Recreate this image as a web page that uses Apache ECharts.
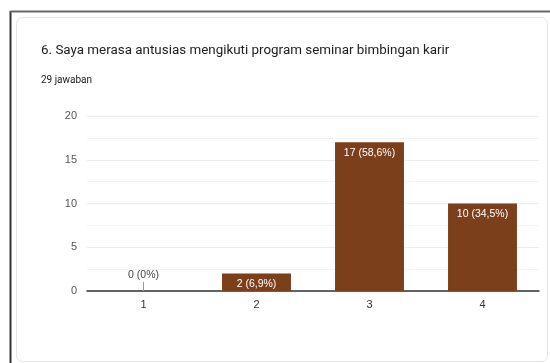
<!DOCTYPE html>
<html>
<head>
<meta charset="utf-8">
<script src="https://cdn.jsdelivr.net/npm/echarts@6/dist/echarts.min.js"></script>
<style>
html,body{margin:0;padding:0;background:#fff;}
#c{width:550px;height:363px;}
</style>
</head>
<body>
<div id="c"></div>
<script>
const titleText = "6. Saya merasa antusias mengikuti program seminar bimbingan karir";
const subtitleText = "29 jawaban";
const categories = ["1", "2", "3", "4"];
const counts = [0, 2, 17, 10];
const percentLabels = ["0%", "6,9%", "58,6%", "34,5%"];
const yTicks = [0, 5, 10, 15, 20];

const chart = echarts.init(document.getElementById('c'), null, {renderer: 'canvas'});

const barData = counts.map((v, i) => ({
  value: v,
  label: v === 0 ? {position: 'top', color: '#444', distance: 10} : {}
}));

chart.setOption({
  animation: false,
  graphic: [
    {type: 'rect', shape: {x: 16.5, y: 17.5, width: 531, height: 344, r: 6}, style: {fill: '#fff', stroke: '#e4e4e4', lineWidth: 1}, z: -10},
    {type: 'line', shape: {x1: 10.5, y1: 11, x2: 10.5, y2: 363}, style: {stroke: '#333', lineWidth: 2}, z: -5},
    {type: 'line', shape: {x1: 10, y1: 11.5, x2: 550, y2: 11.5}, style: {stroke: '#666', lineWidth: 2}, z: -5}
  ],
  title: [
    {text: titleText, left: 36, top: 39, textStyle: {fontFamily: 'Roboto', fontSize: 13.4, fontWeight: 'normal', color: '#202124'}},
    {text: subtitleText, left: 36, top: 70, textStyle: {fontFamily: 'Roboto', fontSize: 10, fontWeight: 'normal', color: '#202124'}}
  ],
  grid: {left: 87, right: 11, top: 116, bottom: 72, containLabel: false},
  xAxis: {
    type: 'category',
    data: categories,
    axisLine: {lineStyle: {color: '#333', width: 1.5}},
    axisTick: {show: false},
    axisLabel: {color: '#333', fontFamily: 'Liberation Sans', fontSize: 11, margin: 8}
  },
  yAxis: {
    type: 'value',
    min: yTicks[0],
    max: yTicks[yTicks.length - 1],
    interval: 5,
    axisLine: {show: false},
    axisTick: {show: false},
    axisLabel: {color: '#555', fontFamily: 'Liberation Sans', fontSize: 11, margin: 10},
    splitLine: {lineStyle: {color: '#ececec', width: 1}},
    minorTick: {show: false, splitNumber: 2},
    minorSplitLine: {show: true, lineStyle: {color: '#f3f3f3', width: 1}}
  },
  series: [
    {
      type: 'bar',
      data: barData,
      barWidth: '61%',
      itemStyle: {color: '#7b3f1c'},
      label: {
        show: true,
        position: 'insideTop',
        distance: 5,
        color: '#fff',
        fontFamily: 'Liberation Sans',
        fontSize: 10.5,
        formatter: p => counts[p.dataIndex] + ' (' + percentLabels[p.dataIndex] + ')'
      }
    },
    {
      type: 'custom',
      data: counts.map((v, i) => [i, v]).filter(d => d[1] === 0),
      renderItem: function (params, api) {
        const p = api.coord([api.value(0), api.value(1)]);
        return {type: 'line', shape: {x1: p[0], y1: p[1], x2: p[0], y2: p[1] - 9}, style: {stroke: '#999', lineWidth: 1}};
      },
      z: 5
    }
  ]
});
</script>
</body>
</html>
